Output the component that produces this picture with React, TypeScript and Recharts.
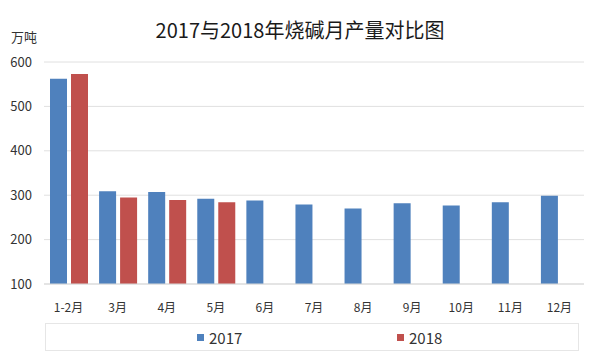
import { BarChart, Bar, XAxis, YAxis, CartesianGrid, Legend } from 'recharts';

const months = ['1-2月', '3月', '4月', '5月', '6月', '7月', '8月', '9月', '10月', '11月', '12月'];
const output2017 = [562, 309, 307, 292, 288, 279, 270, 282, 277, 284, 299];
const output2018 = [573, 295, 289, 284, null, null, null, null, null, null, null];
const yTicks = [100, 200, 300, 400, 500, 600];

const BLUE = '#4f81bd';
const RED = '#c0504d';
const FONT = '"Noto Sans CJK SC", "Noto Sans", sans-serif';

const data = months.map((m, i) => ({ month: m, y2017: output2017[i], y2018: output2018[i] }));

function LegendBox() {
  const item = (left: number, color: string, label: string) => (
    <div style={{ position: 'absolute', left, top: 0, height: 26, display: 'flex', alignItems: 'center' }}>
      <span style={{ width: 7, height: 7, background: color, display: 'inline-block', marginRight: 5 }} />
      <span style={{ fontSize: 15, color: '#333' }}>{label}</span>
    </div>
  );
  return (
    <div style={{ position: 'relative', height: 28, border: '1px solid #e6e6e6', boxSizing: 'border-box', fontFamily: FONT }}>
      {item(151, BLUE, '2017')}
      {item(351, RED, '2018')}
    </div>
  );
}

export default function App() {
  return (
    <div style={{ position: 'absolute', left: 0, top: 0, width: 600, height: 360, background: '#fff', fontFamily: FONT }}>
      <div style={{ position: 'absolute', left: 0, top: 15, width: 600, textAlign: 'center', fontSize: 20, color: '#1a1a1a', lineHeight: '30px' }}>
        2017与2018年烧碱月产量对比图
      </div>
      <div style={{ position: 'absolute', left: 11, top: 27, fontSize: 13, color: '#333' }}>万吨</div>
      <BarChart
        width={600}
        height={360}
        data={data}
        margin={{ top: 62, right: 16, bottom: 9, left: 0 }}
        barSize={17}
        barGap={4}
      >
        <CartesianGrid vertical={false} stroke="#e0e0e0" />
        <XAxis
          dataKey="month"
          height={39}
          tickLine={false}
          axisLine={{ stroke: '#d9d9d9' }}
          tick={{ fontSize: 12, fill: '#333' }}
          tickMargin={13}
          interval={0}
        />
        <YAxis
          width={44}
          domain={[100, 600]}
          ticks={yTicks}
          axisLine={false}
          tickLine={false}
          tickSize={0}
          tickMargin={12}
          tick={{ fontSize: 13, fill: '#333' }}
        />
        <Legend
          verticalAlign="bottom"
          height={28}
          wrapperStyle={{ left: 45, width: 534, bottom: 9 }}
          content={() => <LegendBox />}
        />
        <Bar dataKey="y2017" name="2017" fill={BLUE} isAnimationActive={false} />
        <Bar dataKey="y2018" name="2018" fill={RED} isAnimationActive={false} />
      </BarChart>
    </div>
  );
}
